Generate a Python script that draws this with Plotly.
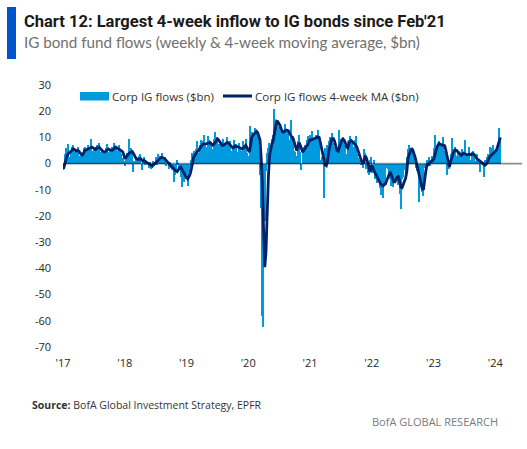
import pandas as pd
import plotly.graph_objects as go

# ---------------- data ($bn) ----------------
flows_2017 = [-2.5, 3.5, 6.0, 5.0, 7.5, 2.5, 4.0, 6.5, 7.0, 4.5, 3.5, 5.5, 6.5, 3.0, 2.5, 4.0, 3.5, 6.0, 6.5, 4.5,
              5.5, 7.0, 6.0, 9.5, 5.0, 4.5, 5.5, 6.5, 7.0, 5.0, 8.0, 4.5, 3.5, 5.5, 4.0, 4.5, 6.0, 7.5, 4.5, 5.0,
              4.0, 6.5, 5.5, 8.0, 6.0, 5.0, 4.5, 7.0, 5.0, 3.5, 2.0, 1.0]
flows_2018 = [-1.0, 1.5, 4.0, 9.5, 5.5, 6.0, 3.5, -3.3, 1.0, 2.5, 1.5, 0.5, 3.0, 3.5, -2.5, 1.5, 2.5, -0.5, 1.0, 0.5,
              -1.5, 0.5, -2.0, -1.5, 1.0, 0.5, 2.5, -0.5, 3.5, 2.0, 3.0, 4.0, 1.5, 0.5, 2.5, -1.0, 0.5, -2.0, 0.5, -1.5,
              -2.5, -7.0, -4.5, -3.0, 1.5, -0.5, -2.5, -5.0, -9.0, -3.0, -7.0, -6.0]
flows_2019 = [-5.5, -8.5, -4.0, -2.0, 1.5, 4.0, 5.0, 2.5, 5.5, 8.5, 4.0, 7.0, 9.0, 6.0, 8.5, 11.0, 7.0, 6.5, 10.5, 9.0,
              6.0, 7.5, 5.5, 9.5, 12.0, 10.0, 8.5, 7.5, 6.5, 8.0, 6.0, 9.5, 8.0, 7.0, 10.0, 7.5, 6.0, 8.5, 5.0, 6.5,
              9.0, 5.5, 7.5, 4.5, 8.0, 6.0, 5.0, 4.5, 8.5, 7.0, 9.5, 4.0]
flows_2020 = [3.0, 1.0, 14.5, 12.0, 10.0, 11.0, 13.5, 12.5, 11.0, 9.5, -4.5, -17.0, -58.0, -62.5, -22.0, -3.0, 4.0, 6.0,
              8.0, 6.0, 9.5, 11.0, 21.0, 15.0, 16.0, 13.0, 14.5, 12.5, 11.0, 12.0, 13.0, 15.0, 13.0, 11.5, 12.5, 9.0,
              16.5, 9.5, 10.5, 5.0, 4.5, 3.0, 8.5, 11.0, 4.5, -2.3, 5.0, 6.5, 7.0, 5.5, 9.0, 10.5, 11.0]
flows_2021 = [10.5, 12.5, 8.0, 9.5, 11.0, 8.5, 13.0, 9.0, 1.5, 2.5, 3.5, -13.2, 6.0, 3.0, 7.0, 8.5, 10.0, 9.0, 11.5, 8.0,
              6.5, 4.5, 3.0, 5.5, 13.0, 8.5, 9.5, 10.0, 7.0, 6.5, 3.5, 8.5, 9.0, 10.5, 7.5, 8.0, 6.5, 9.0, 10.5, 3.5,
              2.0, 1.5, -0.5, 1.0, -1.5, 5.5, 4.0, -2.0, -3.5, -4.5, 1.5, 2.5]
flows_2022 = [-3.5, 1.5, -6.0, -4.0, -7.5, -5.0, -9.5, -12.0, -6.5, -13.0, -4.0, -7.5, -1.5, -2.0, -6.0, -3.5, -8.5,
              -9.0, -5.5, -7.0, -3.0, -4.5, -8.0, -11.5, -17.3, -6.0, -5.0, -2.5, -4.0, 2.5, 5.5, 7.0, 5.0, 6.0, 4.5,
              3.0, 0.5, -1.5, -3.0, -14.6, -7.5, -9.0, -11.0, -12.5, -1.5, -3.0, 1.5, 0.5, 2.5, -1.0, 3.0, 1.5]
flows_2023 = [6.0, 10.8, 4.5, 7.0, 8.5, 6.5, 7.5, 6.0, 10.2, 5.0, 2.0, -4.5, 0.5, -2.0, 3.5, 9.6, 4.0, 5.5, 6.5, 3.0,
              5.0, 4.0, 2.5, 3.0, 5.5, 4.0, 9.0, 2.0, 3.5, 2.5, 6.4, 1.5, 4.5, 5.0, 2.0, 1.0, 3.5, 0.5, 1.5, -3.2,
              1.0, 0.5, -5.1, 1.5, 0.5, 2.5, 3.5, 6.5, 2.0, 6.0, 7.0, 4.5]
flows_2024 = [5.5, 6.5, 8.0, 13.5, 10.0]

ma_2017 = [-2, 0, 2, 3, 3.8, 4.2, 4.4, 5, 5.6, 5.5, 5, 4.8, 5, 4.8, 4, 3.5, 3.3, 4, 5, 5.2,
           5.4, 5.6, 5.8, 6.1, 6.3, 6, 5.6, 5.4, 5.8, 6.2, 6.3, 5.8, 5.2, 4.8, 4.5, 4.4, 4.8, 5.3, 5.6, 5.3,
           5, 5, 5.4, 6, 6.3, 6, 5.6, 5.4, 5.2, 5, 4.5, 3.2]
ma_2018 = [1.8, 2.5, 3.5, 3.8, 4.2, 4.5, 4.6, 4, 3, 2.2, 1.8, 1.5, 1.8, 2, 1.4, 1, 1.2, 0.8, 0.5, 0.2,
           0, -0.4, -0.8, -1, -0.5, 0, 0.3, 0.6, 1.2, 1.8, 2.2, 2.4, 2.3, 2, 1.6, 1, 0.3, -0.2, -0.5, -0.9,
           -1.3, -1.8, -2.5, -3, -3.1, -2.5, -1.5, -1.3, -2, -2.6, -3.8, -4.8]
ma_2019 = [-5.2, -5.8, -5, -4, -2, 0.5, 2.5, 3.2, 4, 4.6, 5, 5.8, 6.5, 7, 7.4, 7.6, 7.5, 7.6, 7.8, 8,
           8, 7.5, 7, 7.3, 8.2, 9, 9.4, 9, 8.2, 7.5, 7, 7, 7.3, 7.8, 8, 8, 7.5, 7, 6.5, 6,
           6.2, 6.8, 6.5, 6.5, 6.2, 6, 5.8, 5.6, 6, 6.6, 7, 6]
ma_2020 = [5, 4.4, 7, 10, 10.8, 11.2, 11.8, 12.3, 11.8, 10.5, 9, 2, -8, -25, -39.5, -34, -18, -6, 3, 6,
           7.5, 8.5, 11, 14, 16.2, 16, 15.4, 14.5, 13, 12, 12, 12.5, 12.8, 12.7, 12.5, 11.5, 10.5, 10, 9.5, 8,
           6, 5, 6.5, 8, 7, 5.5, 4.4, 5, 6, 6.5, 7, 8, 9]
ma_2021 = [9, 9.3, 9.5, 9.6, 9.8, 10, 10.2, 10, 8, 5, 3, 1, -0.5, -0.8, 1, 4.5, 7, 8.5, 9.5, 9.5,
           8.5, 7, 5, 4.8, 6.5, 8, 9, 9.3, 9, 8, 6.5, 6, 7, 8.5, 8.8, 8.3, 7.8, 7.5, 7, 6,
           4.5, 3, 1.5, 0.5, 0, 1.5, 3, 2, 0, -1.5, -3.2, -1]
ma_2022 = [-1, -2.5, -3.5, -4.5, -5.5, -6.3, -7, -7.8, -8.3, -8.5, -8, -7.7, -6.5, -5, -4.2, -3.2, -4.5, -6, -7, -7,
           -6, -5, -5, -7, -9, -9.2, -8, -6.5, -5.5, -3, 2, 3.5, 5, 5.8, 5.2, 4, 2.5, 0.5, -1.5, -3.5,
           -6, -8, -9.5, -10, -5, -3, -0.5, -0.5, 0.3, 0.6, 1, 1.3]
ma_2023 = [2, 4.5, 5.6, 6.8, 7.6, 7.5, 7.2, 7, 7, 6.8, 5, 2.5, 0, -1.3, 0.8, 2.6, 3.8, 4.8, 5.2, 5,
           4.6, 4.3, 3.8, 3.2, 3.6, 4, 3.8, 3.4, 3.3, 3.5, 3.6, 3.4, 3.6, 3.8, 3.4, 2.6, 1.9, 1.6, 1.2, 0.8,
           0.3, 0, -0.4, -0.6, -0.3, 0.4, 1.5, 2.6, 3, 3.5, 3.8, 4.2]
ma_2024 = [4.8, 5.5, 7.2, 8.8, 9.9]

year_ticks = ["2017-01-01", "2018-01-01", "2019-01-01", "2020-01-01",
              "2021-01-01", "2022-01-01", "2023-01-01", "2024-01-01"]
year_labels = ["'17", "'18", "'19", "'20", "'21", "'22", "'23", "'24"]
y_tick_vals = [30, 20, 10, 0, -10, -20, -30, -40, -50, -60, -70]
y_tick_labels = ["30", "20", "10", "0", "-10", "-20", "-30", "-40", "-50", "-60", "-70"]

flows = (flows_2017 + flows_2018 + flows_2019 + flows_2020 + flows_2021
         + flows_2022 + flows_2023 + flows_2024)
ma4 = ma_2017 + ma_2018 + ma_2019 + ma_2020 + ma_2021 + ma_2022 + ma_2023 + ma_2024
weeks = pd.date_range("2017-01-04", periods=len(flows), freq="7D")

# ---------------- styling ----------------
BAR_BLUE = "#009ADE"
NAVY = "#012169"
TICK_FONT = dict(family="Open Sans, Noto Sans, sans-serif", size=11, color="#262626")

fig = go.Figure()
fig.add_trace(go.Bar(x=weeks, y=flows, marker=dict(color=BAR_BLUE, line=dict(width=0)),
                     name="Corp IG flows ($bn)", showlegend=False))
fig.add_trace(go.Scatter(x=weeks, y=ma4[:len(weeks)], mode="lines", line=dict(color=NAVY, width=2.8),
                         name="Corp IG flows 4-week MA ($bn)", showlegend=False))

W, H = 527, 449
L, R, T, B = 63, 5, 85, 102
pw, ph = W - L - R, H - T - B

def px(x):
    return (x - L) / pw

def py(y):
    return (H - B - y) / ph

shapes = [
    # zero line
    dict(type="line", xref="paper", yref="y", x0=0, x1=1, y0=0, y1=0,
         line=dict(color="rgba(0,0,0,0.45)", width=1.6), layer="above"),
    # title accent bar
    dict(type="rect", xref="paper", yref="paper", x0=px(7), x1=px(16), y0=py(59), y1=py(7),
         fillcolor="#0053C8", line=dict(width=0)),
    # legend swatches
    dict(type="rect", xref="paper", yref="paper", x0=px(80), x1=px(109), y0=py(100.5), y1=py(92),
         fillcolor=BAR_BLUE, line=dict(width=0)),
    dict(type="line", xref="paper", yref="paper", x0=px(223), x1=px(252), y0=py(96), y1=py(96),
         line=dict(color=NAVY, width=3)),
]

LEG_FONT = dict(family="Open Sans, Noto Sans, sans-serif", size=11.5, color="#333333")
annotations = [
    dict(text="<b>Chart 12: Largest 4-week inflow to IG bonds since Feb'21</b>", x=px(22), y=py(21),
         xref="paper", yref="paper", xanchor="left", yanchor="middle", showarrow=False,
         font=dict(family="Liberation Sans Narrow, Roboto, sans-serif", size=16.5, color="#1a1a1a")),
    dict(text="IG bond fund flows (weekly & 4-week moving average, $bn)", x=px(22), y=py(42),
         xref="paper", yref="paper", xanchor="left", yanchor="middle", showarrow=False,
         font=dict(family="Liberation Sans Narrow, Lato, sans-serif", size=15.2, color="#707070")),
    dict(text="Corp IG flows ($bn)", x=px(110), y=py(96.5), xref="paper", yref="paper",
         xanchor="left", yanchor="middle", showarrow=False, font=LEG_FONT),
    dict(text="Corp IG flows 4-week MA ($bn)", x=px(253), y=py(96.5), xref="paper", yref="paper",
         xanchor="left", yanchor="middle", showarrow=False, font=LEG_FONT),
    dict(text="<b>Source:</b> BofA Global Investment Strategy, EPFR", x=px(30), y=py(405),
         xref="paper", yref="paper", xanchor="left", yanchor="middle", showarrow=False,
         font=dict(family="Open Sans, Noto Sans, sans-serif", size=10.5, color="#333333")),
    dict(text="BofA GLOBAL RESEARCH", x=px(500), y=py(421), xref="paper", yref="paper",
         xanchor="right", yanchor="middle", showarrow=False,
         font=dict(family="Open Sans, Noto Sans, sans-serif", size=11, color="#7a7a7a")),
]

fig.update_layout(
    width=W, height=H,
    margin=dict(l=L, r=R, t=T, b=B, autoexpand=False),
    paper_bgcolor="white", plot_bgcolor="white",
    bargap=0, showlegend=False,
    shapes=shapes, annotations=annotations,
    xaxis=dict(type="date", range=["2017-01-01", "2024-06-07"], tickvals=year_ticks, ticktext=year_labels,
               showgrid=False, zeroline=False, showline=False, ticks="", tickfont=TICK_FONT,
               ticklabelstandoff=8),
    yaxis=dict(range=[-70, 30], tickvals=y_tick_vals, ticktext=y_tick_labels, showgrid=False,
               zeroline=False, showline=False, ticks="", tickfont=TICK_FONT, ticklabelstandoff=11),
)

fig.write_html("out.html", config={"displayModeBar": False},
               post_script="document.body.style.margin='0';")
